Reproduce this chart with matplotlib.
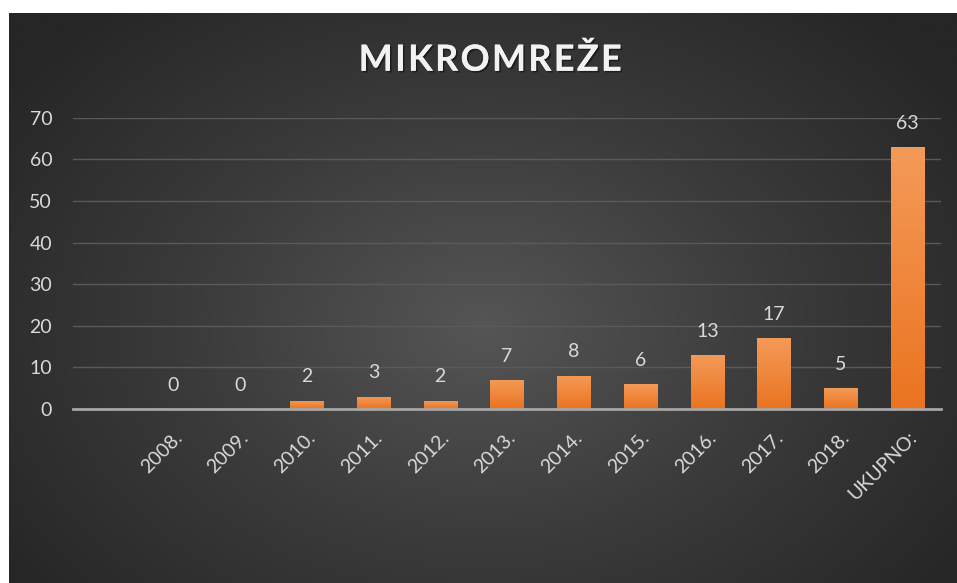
import numpy as np
import matplotlib.pyplot as plt
import matplotlib.patheffects as pe
from matplotlib.colors import LinearSegmentedColormap

# podaci
godine = ["2008.", "2009.", "2010.", "2011.", "2012.", "2013.", "2014.",
          "2015.", "2016.", "2017.", "2018.", "UKUPNO:"]
broj = [0, 0, 2, 3, 2, 7, 8, 6, 13, 17, 5, 63]
y_ticks = [0, 10, 20, 30, 40, 50, 60, 70]
naslov = "MIKROMREŽE"

plt.rcParams['font.family'] = ['Lato', 'DejaVu Sans']

W, H = 957, 583
fig = plt.figure(figsize=(W / 100, H / 100), dpi=100)
fig.patch.set_facecolor("white")

# tamna pozadina s radijalnim prijelazom
bg = fig.add_axes([9 / W, 0, (W - 9) / W, (H - 13) / H])
bg.set_axis_off()
yy, xx = np.mgrid[0:1:300j, 0:1:500j]
r = np.sqrt(((xx - 0.5) / 0.62) ** 2 + ((yy - 0.55) / 0.75) ** 2)
r = np.clip(r, 0, 1)
cmap_bg = LinearSegmentedColormap.from_list("bg", ["#555555", "#3b3b3b", "#262626"])
bg.imshow(r, cmap=cmap_bg, aspect="auto", extent=[0, 1, 0, 1], origin="upper")
bg.set_xlim(0, 1)
bg.set_ylim(0, 1)

ax = fig.add_axes([73 / W, (H - 409) / H, 868 / W, (409 - 117.7) / H])
ax.patch.set_alpha(0)
x = np.arange(len(godine))
bars = ax.bar(x, broj, width=0.5, color="#ef7f2c", zorder=3)

# narančasti prijelaz na stupcima
cmap_bar = LinearSegmentedColormap.from_list("bar", ["#ea7420", "#f49a58"])
grad = np.linspace(0, 1, 100).reshape(-1, 1)
for b in bars:
    if b.get_height() <= 0:
        continue
    x0, y0 = b.get_x(), b.get_y()
    im = ax.imshow(grad, cmap=cmap_bar, aspect="auto", origin="lower",
                   extent=[x0, x0 + b.get_width(), y0, y0 + b.get_height()], zorder=4)
    im.set_clip_path(b)

for xi, v in zip(x, broj):
    ax.annotate(str(v), (xi, v), xytext=(0, 11), textcoords="offset points",
                ha="center", va="bottom", color="#d9d9d9", fontsize=14, zorder=5)

ax.set_xlim(-1.5, 11.5)
ax.set_ylim(0, 70)
ax.set_yticks(y_ticks)
ax.set_yticklabels([str(t) for t in y_ticks])
ax.set_xticks(x)
ax.set_xticklabels(godine, rotation=45, ha="right", rotation_mode="anchor")
ax.grid(axis="y", color="#5a5a5a", linewidth=1, zorder=0)
for s in ["top", "right", "left"]:
    ax.spines[s].set_visible(False)
ax.spines["bottom"].set_color("#a6a6a6")
ax.spines["bottom"].set_linewidth(2)
ax.spines["bottom"].set_zorder(6)
ax.tick_params(axis="y", length=0, pad=15, labelcolor="#d9d9d9", labelsize=14)
ax.tick_params(axis="x", length=0, pad=14, labelcolor="#d9d9d9", labelsize=14)

fig.text(490 / W, 1 - 60 / H, "\u200a".join(naslov), ha="center", va="center",
         fontsize=26, fontweight="bold", color="#f2f2f2",
         path_effects=[pe.withSimplePatchShadow(offset=(1.2, -1.2), shadow_rgbFace="black", alpha=0.45),
                       pe.Normal()])

fig.savefig("out.png", dpi=100, facecolor=fig.get_facecolor())
